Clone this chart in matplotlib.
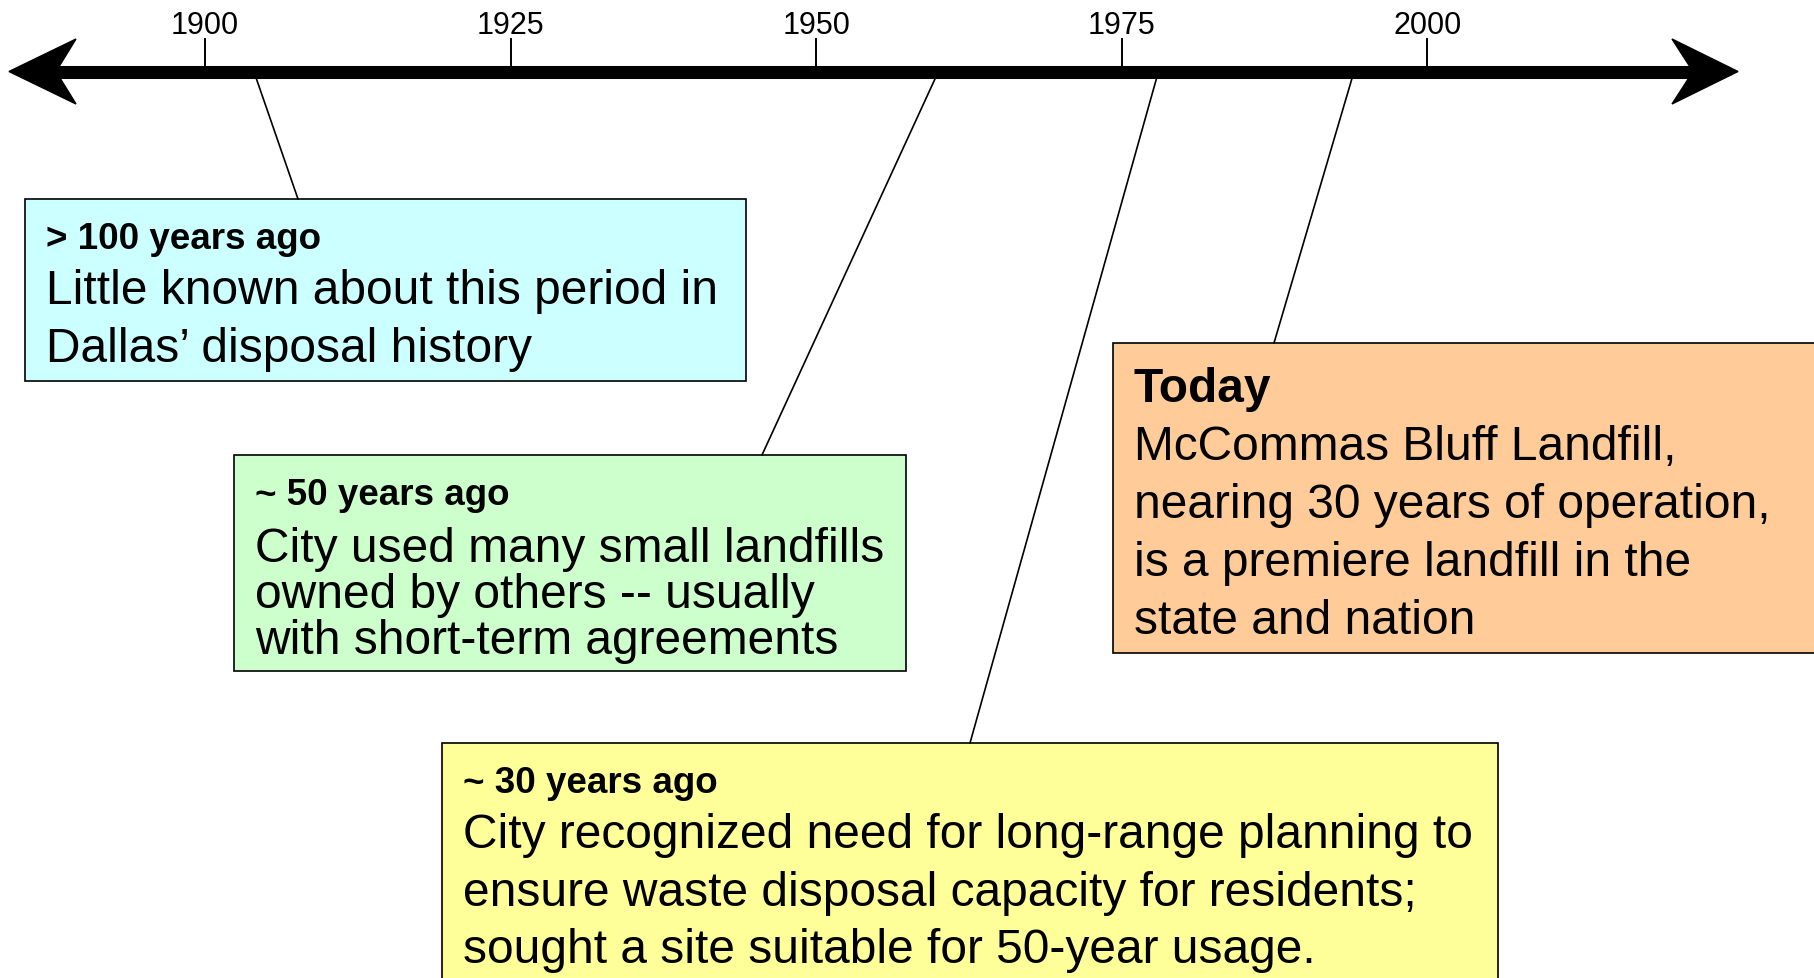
import matplotlib.pyplot as plt
from matplotlib.patches import Rectangle, Polygon, ConnectionPatch

plt.rcParams["font.family"] = ["Liberation Sans", "DejaVu Sans"]

# timeline scale
TICK_YEARS = [1900, 1925, 1950, 1975, 2000]
YEAR_MIN, YEAR_MAX = 1883.23, 2031.63

# events: year on the timeline, box, header, body lines
EVENT_YEARS = [1904, 1960, 1978, 1994]
HEADERS = ["> 100 years ago", "~ 50 years ago", "~ 30 years ago", "Today"]
BODIES = [
    ["Little known about this period in", "Dallas\u2019 disposal history"],
    ["City used many small landfills", "owned by others -- usually",
     "with short-term agreements"],
    ["City recognized need for long-range planning to",
     "ensure waste disposal capacity for residents;",
     "sought a site suitable for 50-year usage."],
    ["McCommas Bluff Landfill,", "nearing 30 years of operation,",
     "is a premiere landfill in the", "state and nation"],
]
COLORS = ["#ccffff", "#ccffcc", "#ffff99", "#ffcc99"]

# layout in pixels (x0, y0, x1, y1), connector end x, text baselines
BOXES = [(25, 200, 746, 382), (234, 456, 906, 672),
         (442, 744, 1498, 1100), (1113, 344, 1900, 654)]
ANCHOR_X = [298, 762, 970, 1274]
HEAD_Y = [249, 505, 793, 402]
BODY_Y = [[304, 362], [562, 608, 654], [848, 906, 963],
          [460, 518, 576, 634]]
HEAD_SIZE = [26.5, 26.5, 26.5, 34.5]
W, H = 1814, 979
AXIS_Y = 72.5


def main():
    fig = plt.figure(figsize=(W / 100, H / 100), dpi=100)
    ax = fig.add_axes([0, 0, 1, 1])
    ax.set_xlim(0, W)
    ax.set_ylim(H, 0)
    ax.axis("off")

    tax = fig.add_axes([0, 0, 1, 1])
    tax.set_xlim(YEAR_MIN, YEAR_MAX)
    tax.set_ylim(H, 0)
    tax.axis("off")
    tax.patch.set_alpha(0)

    for i in range(4):
        x0, y0, x1, y1 = BOXES[i]
        ax.add_patch(Rectangle((x0, y0), x1 - x0, y1 - y0, facecolor=COLORS[i],
                               edgecolor="black", linewidth=1.2, zorder=2))
        tx = x0 + 21
        ax.text(tx, HEAD_Y[i], HEADERS[i], fontsize=HEAD_SIZE[i], fontweight="bold",
                va="baseline", ha="left", zorder=3)
        for line, by in zip(BODIES[i], BODY_Y[i]):
            ax.text(tx, by, line, fontsize=34.5, va="baseline", ha="left", zorder=3)
        con = ConnectionPatch(xyA=(EVENT_YEARS[i], AXIS_Y), coordsA=tax.transData,
                              xyB=(ANCHOR_X[i], y0), coordsB=ax.transData,
                              color="black", linewidth=1.2, zorder=1)
        fig.add_artist(con)

    # main timeline with notched arrow heads
    ax.plot([50, 1700], [AXIS_Y, AXIS_Y], color="black", linewidth=9.4,
            solid_capstyle="butt", zorder=5)
    ax.add_patch(Polygon([(9, AXIS_Y), (76, 40), (56, AXIS_Y), (76, 105)],
                         closed=True, color="black", zorder=5))
    ax.add_patch(Polygon([(1738, AXIS_Y), (1672, 40), (1693, AXIS_Y), (1672, 105)],
                         closed=True, color="black", zorder=5))

    for yr in TICK_YEARS:
        tax.plot([yr, yr], [40, AXIS_Y], color="black", linewidth=1.4)
        tax.text(yr, 34, str(yr), fontsize=22, ha="center", va="baseline")

    fig.savefig("out.png", dpi=100)


if __name__ == "__main__":
    main()
